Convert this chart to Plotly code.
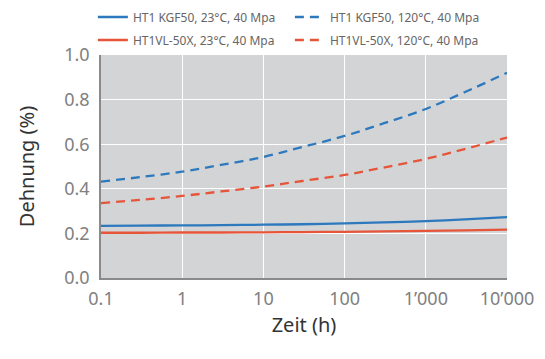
import plotly.graph_objects as go

time_h = [0.1, 0.3, 1, 3, 10, 30, 100, 300, 1000, 3000, 10000]
kgf50_23 = [0.234, 0.235, 0.236, 0.237, 0.239, 0.241, 0.245, 0.249, 0.255, 0.263, 0.273]
kgf50_120 = [0.432, 0.452, 0.477, 0.507, 0.543, 0.587, 0.637, 0.693, 0.758, 0.833, 0.920]
vl50x_23 = [0.203, 0.203, 0.204, 0.204, 0.205, 0.206, 0.207, 0.209, 0.211, 0.214, 0.217]
vl50x_120 = [0.336, 0.350, 0.368, 0.388, 0.410, 0.435, 0.462, 0.495, 0.534, 0.578, 0.630]

names = ["HT1 KGF50, 23°C, 40 Mpa", "HT1 KGF50, 120°C, 40 Mpa",
         "HT1VL-50X, 23°C, 40 Mpa", "HT1VL-50X, 120°C, 40 Mpa"]
series = [kgf50_23, kgf50_120, vl50x_23, vl50x_120]
colors = ["#2d79be", "#2d79be", "#e6553a", "#e6553a"]
dashes = ["solid", "9px,6px", "solid", "9px,6px"]
legend_ids = ["legend", "legend", "legend2", "legend2"]

x_tickvals = [0.1, 1, 10, 100, 1000, 10000]
x_ticktext = ["0.1", "1", "10", "100", "1’000", "10’000"]
y_tickvals = [0.0, 0.2, 0.4, 0.6, 0.8, 1.0]

fig = go.Figure()
for n, s, c, d, lg in zip(names, series, colors, dashes, legend_ids):
    fig.add_trace(go.Scatter(x=time_h, y=s, name=n, mode="lines", legend=lg,
                             line=dict(color=c, width=2.3, dash=d, shape="spline")))

font = "Noto Sans"
leg_common = dict(orientation="h", x=-0.02, xanchor="left", yanchor="middle",
                  entrywidth=152, entrywidthmode="pixels",
                  font=dict(size=12, color="#666666"),
                  itemwidth=30, bgcolor="rgba(0,0,0,0)")
fig.update_layout(
    width=545, height=359,
    margin=dict(l=101, r=38, t=55, b=81, autoexpand=False),
    paper_bgcolor="white", plot_bgcolor="#d3d4d6",
    font=dict(family=font, color="#777777"),
    showlegend=True,
    legend=dict(**leg_common, y=1.0 + 38 / 223),
    legend2=dict(**leg_common, y=1.0 + 15 / 223),
    xaxis=dict(type="log", range=[-1, 4], tickvals=x_tickvals, ticktext=x_ticktext,
               showgrid=True, gridcolor="white", gridwidth=1.2,
               showline=True, linecolor="#8a8a8a", linewidth=1.5,
               zeroline=False, tickfont=dict(size=18, color="#808080"),
               ticks="", ticklabelstandoff=4,
               title=dict(text="Zeit (h)", font=dict(size=20, color="#333333"), standoff=9)),
    yaxis=dict(range=[0, 1.0], tickvals=y_tickvals, tickformat=".1f",
               showgrid=True, gridcolor="white", gridwidth=1.2,
               showline=True, linecolor="#8a8a8a", linewidth=1.5,
               zeroline=False, tickfont=dict(size=18, color="#808080"),
               ticks="", ticklabelstandoff=6,
               title=dict(text="Dehnung (%)", font=dict(size=20, color="#333333"), standoff=24)),
)

fig.write_html("out.html", config={"displayModeBar": False},
               post_script="document.body.style.margin='0';document.body.style.overflow='hidden';")
